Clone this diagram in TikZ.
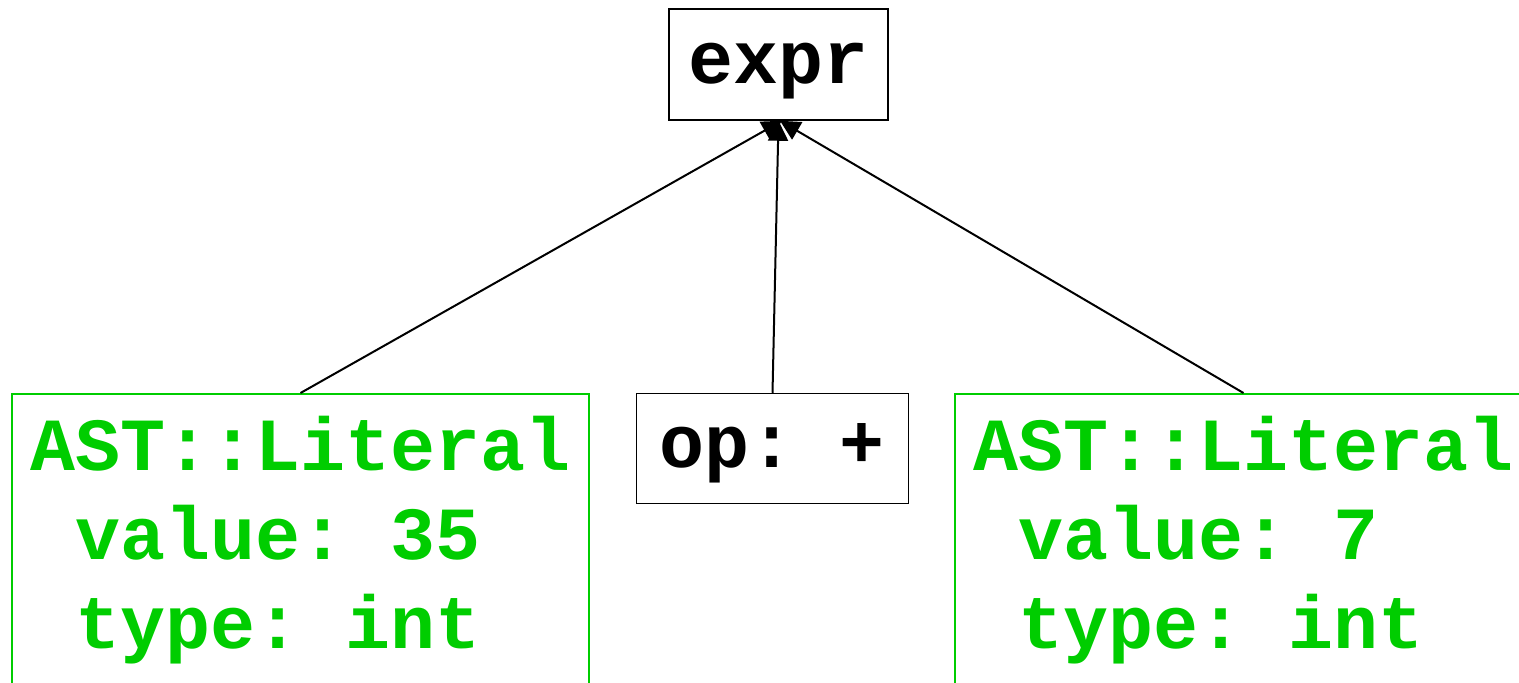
\documentclass[tikz,border=0pt]{standalone}
\usepackage{fontspec}
\setmonofont{Liberation Mono}
\usetikzlibrary{arrows.meta}
\definecolor{litgreen}{RGB}{0,205,0}
\tikzset{
  astnode/.style={draw, line width=0.75pt, inner sep=0pt,
    font=\ttfamily\bfseries\fontsize{37.5pt}{44.5pt}\selectfont,
    text height=22pt, text depth=3pt},
  literal/.style={astnode, draw=litgreen, text=litgreen, align=left,
    anchor=north, minimum width=288.5pt, text height=127.5pt, text depth=19pt}
}
\begin{document}
\begin{tikzpicture}[x=0.5pt, y=-0.5pt]
      \useasboundingbox (0,0) rectangle (1519,682);
      \draw
        (778.5,64.5) node[astnode, minimum width=109.5pt, minimum height=55.5pt] (expr){expr}
        (300.5,393) node[literal] (lhs){AST::Literal\\\ value: 35\\\ type: int}
        (772.5,448.5) node[astnode, minimum width=136pt, minimum height=55pt] (op){op: +}
        (1243.5,393) node[literal] (rhs){AST::Literal\\\ value: 7\\\ type: int};
      \begin{scope}[line width=1pt, -{Triangle[length=10pt, width=10pt]}]
        \draw (lhs.north) to ([xshift=1.75pt]expr.south);
        \draw (op.north) to (expr.south);
        \draw (rhs.north) to ([xshift=0.75pt]expr.south);
      \end{scope}
    \end{tikzpicture}
\end{document}
